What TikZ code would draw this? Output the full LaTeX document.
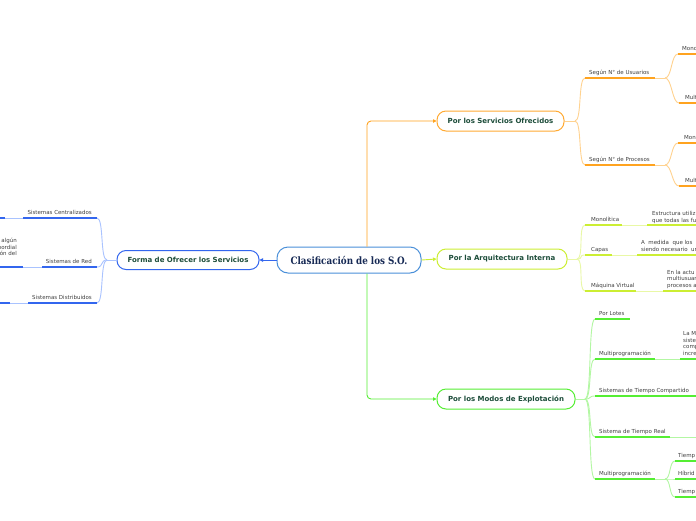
\documentclass[tikz,border=0pt]{standalone}
\usepackage{fontspec}
\setmainfont{DejaVu Sans}
\newfontfamily\rootfont[FakeStretch=0.86]{DejaVu Serif}
\usetikzlibrary{arrows.meta}
\definecolor{orT}{HTML}{FFA31F}
\definecolor{orL}{HTML}{FFD28F}
\definecolor{orN}{HTML}{FFAA33}
\definecolor{ygT}{HTML}{CCEE33}
\definecolor{ygL}{HTML}{E9F8A6}
\definecolor{grT}{HTML}{55EE33}
\definecolor{grL}{HTML}{B3F7A3}
\definecolor{blT}{HTML}{3366EE}
\definecolor{blL}{HTML}{A9C3FF}
\definecolor{rootB}{HTML}{4A90D9}
\definecolor{rootT}{HTML}{172A55}
\definecolor{nodeT}{HTML}{1D4D3A}
\definecolor{txt}{HTML}{404040}
\tikzset{
  lbl/.style={font=\fontsize{5.5}{6.5}\selectfont, text=txt, inner sep=0pt, anchor=base west},
  lblr/.style={lbl, anchor=base east},
  mainnode/.style={draw, rounded corners=9pt, line width=1pt, fill=white, minimum height=20pt,
    inner sep=0pt, font=\bfseries\fontsize{7}{8}\selectfont, text=nodeT},
  rootnode/.style={draw=rootB, rounded corners=11pt, line width=1pt, fill=white, minimum height=26pt,
    minimum width=144pt, inner sep=0pt, font=\rootfont\bfseries\fontsize{10.2}{11}\selectfont, text=rootT},
  conn/.style={line width=0.9pt, rounded corners=4pt, -{Triangle[length=3.5pt,width=3.5pt]}},
  thk/.style={line width=1.7pt},
  lt/.style={line width=0.9pt},
}
\begin{document}
\begin{tikzpicture}[x=1pt,y=-1pt]
\clip (0,0) rectangle (696,520);
\fill[white] (0,0) rectangle (696,520);

% main nodes and connectors
\node[rootnode] (root) at (349,260) {Clasificación de los S.O.};
\node[mainnode, draw=orN, minimum width=127pt] (ser) at (500.5,121) {Por los Servicios Ofrecidos};
\node[mainnode, draw=ygT, minimum width=130pt] (arq) at (502,259) {Por la Arquitectura Interna};
\node[mainnode, draw=grT, minimum width=138pt] (mod) at (506,399) {Por los Modos de Explotación};
\node[mainnode, draw=blT, minimum width=142pt, minimum height=19pt] (forma) at (188,260) {Forma de Ofrecer los Servicios};

\draw[conn, orT] ([xshift=18pt]root.north) |- (ser.west);
\draw[conn, grT] ([xshift=18pt]root.south) |- (mod.west);
\draw[conn, ygT] (root.east) -- (arq.west);
\draw[conn, blT] (root.west) -- (forma.east);

% ---------- Servicios Ofrecidos (orange)
\coordinate (ser0) at (575,121);
\draw[lt, orL] (ser.east) -- (ser0);
\node[lbl] (su) at (589,74.5) {Según N° de Usuarios};
\coordinate (suA) at (585,78); \coordinate (suB) at (655,78); \coordinate (suC) at (665,78);
\node[lbl] (sp) at (589,161.5) {Según N° de Procesos};
\coordinate (spA) at (585,165); \coordinate (spB) at (655,165); \coordinate (spC) at (665,165);
\draw[lt, orL] (ser0) .. controls +(7,0) and +(-7,0) .. (suA);
\draw[lt, orL] (ser0) .. controls +(7,0) and +(-7,0) .. (spA);
\draw[thk, orT] (suA) -- (suB);
\draw[thk, orT] (spA) -- (spB);
\draw[lt, orL] (suB) -- (suC);
\draw[lt, orL] (spB) -- (spC);

\node[lbl] (m1) at (682,50.5) {Mono};
\coordinate (m1A) at (678,54); \coordinate (m1B) at (700,54);
\node[lbl] (m2) at (685,99.5) {Multi};
\coordinate (m2A) at (679,103); \coordinate (m2B) at (700,103);
\node[lbl] (m3) at (684,139.5) {Mono};
\coordinate (m3A) at (678,143); \coordinate (m3B) at (700,143);
\node[lbl] (m4) at (685,182.5) {Multi};
\coordinate (m4A) at (679,186); \coordinate (m4B) at (700,186);
\draw[lt, orL] (suC) .. controls +(7,0) and +(-7,0) .. (m1A);
\draw[lt, orL] (suC) .. controls +(7,0) and +(-7,0) .. (m2A);
\draw[lt, orL] (spC) .. controls +(7,0) and +(-7,0) .. (m3A);
\draw[lt, orL] (spC) .. controls +(7,0) and +(-7,0) .. (m4A);
\draw[thk, orT] (m1A) -- (m1B);
\draw[thk, orT] (m2A) -- (m2B);
\draw[thk, orT] (m3A) -- (m3B);
\draw[thk, orT] (m4A) -- (m4B);

% ---------- Arquitectura Interna (yellow-green)
\coordinate (arq0) at (577,259);
\draw[lt, ygL] (arq.east) -- (arq0);
\node[lbl] (a1) at (591,221.5) {Monolítica};
\coordinate (a1A) at (585,225); \coordinate (a1B) at (622,225); \coordinate (a1C) at (647,225); \coordinate (a1D) at (700,225);
\node[lbl] (a1p) at (652,215) {Estructura utiliz};
\node[lbl] (a1q) at (652,222) {que todas las fu};
\node[lbl] (a2) at (591,251.5) {Capas};
\coordinate (a2A) at (585,255); \coordinate (a2B) at (612,255); \coordinate (a2C) at (637,255); \coordinate (a2D) at (700,255);
\node[lbl] (a2p) at (641,244.5) {A\ \ medida\ \ que los};
\node[lbl] (a2q) at (641,251) {siendo necesario\ \ un};
\node[lbl] (a3) at (591,287.5) {Máquina Virtual};
\coordinate (a3A) at (585,291); \coordinate (a3B) at (636,291); \coordinate (a3C) at (663,291); \coordinate (a3D) at (700,291);
\node[lbl] (a3p) at (667,274) {En la actu};
\node[lbl] (a3q) at (667,280.5) {multiusuar};
\node[lbl] (a3r) at (667,287) {procesos a};
\foreach \c in {a1A,a2A,a3A}{\draw[lt, ygL] (arq0) .. controls +(7,0) and +(-7,0) .. (\c);}
\draw[thk, ygT] (a1A) -- (a1B); \draw[lt, ygL] (a1B) -- (a1C); \draw[thk, ygT] (a1C) -- (a1D);
\draw[thk, ygT] (a2A) -- (a2B); \draw[lt, ygL] (a2B) -- (a2C); \draw[thk, ygT] (a2C) -- (a2D);
\draw[thk, ygT] (a3A) -- (a3B); \draw[lt, ygL] (a3B) -- (a3C); \draw[thk, ygT] (a3C) -- (a3D);

% ---------- Modos de Explotacion (green)
\coordinate (mod0) at (585,399);
\draw[lt, grL] (mod.east) -- (mod0);
\node[lbl] (g1) at (599,315.5) {Por Lotes};
\coordinate (g1A) at (595,319); \coordinate (g1B) at (630,319);
\node[lbl] (g2) at (599,355.5) {Multiprogramación};
\coordinate (g2A) at (595,359); \coordinate (g2B) at (655,359); \coordinate (g2C) at (680,359); \coordinate (g2D) at (700,359);
\node[lbl] (g2p) at (683,335.5) {La M};
\node[lbl] (g2q) at (683,342) {siste};
\node[lbl] (g2r) at (683,348.5) {comp};
\node[lbl] (g2s) at (683,355) {incre};
\node[lbl] (g3) at (599,392.5) {Sistemas de Tiempo Compartido};
\coordinate (g3A) at (595,396); \coordinate (g3B) at (700,396);
\node[lbl] (g4) at (599,433.5) {Sistema de Tiempo Real};
\coordinate (g4A) at (595,437); \coordinate (g4B) at (670,437); \coordinate (g4C) at (700,437);
\node[lbl] (g5) at (599,475.5) {Multiprogramación};
\coordinate (g5A) at (595,479); \coordinate (g5B) at (655,479); \coordinate (g5C) at (665,479);
\foreach \c in {g1A,g2A,g3A,g4A,g5A}{\draw[lt, grL] (mod0) .. controls +(7,0) and +(-7,0) .. (\c);}
\draw[thk, grT] (g1A) -- (g1B);
\draw[thk, grT] (g2A) -- (g2B); \draw[lt, grL] (g2B) -- (g2C); \draw[thk, grT] (g2C) -- (g2D);
\draw[thk, grT] (g3A) -- (g3B);
\draw[thk, grT] (g4A) -- (g4B); \draw[lt, grL] (g4B) -- (g4C);
\draw[thk, grT] (g5A) -- (g5B); \draw[lt, grL] (g5B) -- (g5C);
\node[lbl] (h1) at (678,457.5) {Tiemp};
\coordinate (h1A) at (675,461); \coordinate (h1B) at (700,461);
\node[lbl] (h2) at (678,475.5) {Híbrid};
\coordinate (h2A) at (675,479); \coordinate (h2B) at (700,479);
\node[lbl] (h3) at (678,493.5) {Tiemp};
\coordinate (h3A) at (675,497); \coordinate (h3B) at (700,497);
\foreach \c in {h1A,h2A,h3A}{\draw[lt, grL] (g5C) .. controls +(6,0) and +(-6,0) .. (\c);}
\draw[thk, grT] (h1A) -- (h1B);
\draw[thk, grT] (h2A) -- (h2B);
\draw[thk, grT] (h3A) -- (h3B);

% ---------- Forma de Ofrecer (blue)
\coordinate (fo0) at (107,260);
\draw[lt, blL] (forma.west) -- (fo0);
\node[lblr] (b1) at (92,214.5) {Sistemas Centralizados};
\coordinate (b1A) at (97,218); \coordinate (b1B) at (23,218); \coordinate (b1C) at (5,218); \coordinate (b1D) at (-5,218);
\node[lblr] (b2) at (92,263.5) {Sistemas de Red};
\coordinate (b2A) at (97,267); \coordinate (b2B) at (42,267); \coordinate (b2C) at (23,267); \coordinate (b2D) at (-5,267);
\node[lblr] (b2p) at (17,242.5) {algún};
\node[lblr] (b2q) at (17,249) {nordial};
\node[lblr] (b2r) at (17,255.5) {ón del};
\node[lblr] (b3) at (92,299.5) {Sistemas Distribuidos};
\coordinate (b3A) at (97,303); \coordinate (b3B) at (28,303); \coordinate (b3C) at (10,303); \coordinate (b3D) at (-5,303);
\foreach \c in {b1A,b2A,b3A}{\draw[lt, blL] (fo0) .. controls +(-7,0) and +(7,0) .. (\c);}
\draw[thk, blT] (b1A) -- (b1B); \draw[lt, blL] (b1B) -- (b1C); \draw[thk, blT] (b1C) -- (b1D);
\draw[thk, blT] (b2A) -- (b2B); \draw[lt, blL] (b2B) -- (b2C); \draw[thk, blT] (b2C) -- (b2D);
\draw[thk, blT] (b3A) -- (b3B); \draw[lt, blL] (b3B) -- (b3C); \draw[thk, blT] (b3C) -- (b3D);
\end{tikzpicture}
\end{document}
